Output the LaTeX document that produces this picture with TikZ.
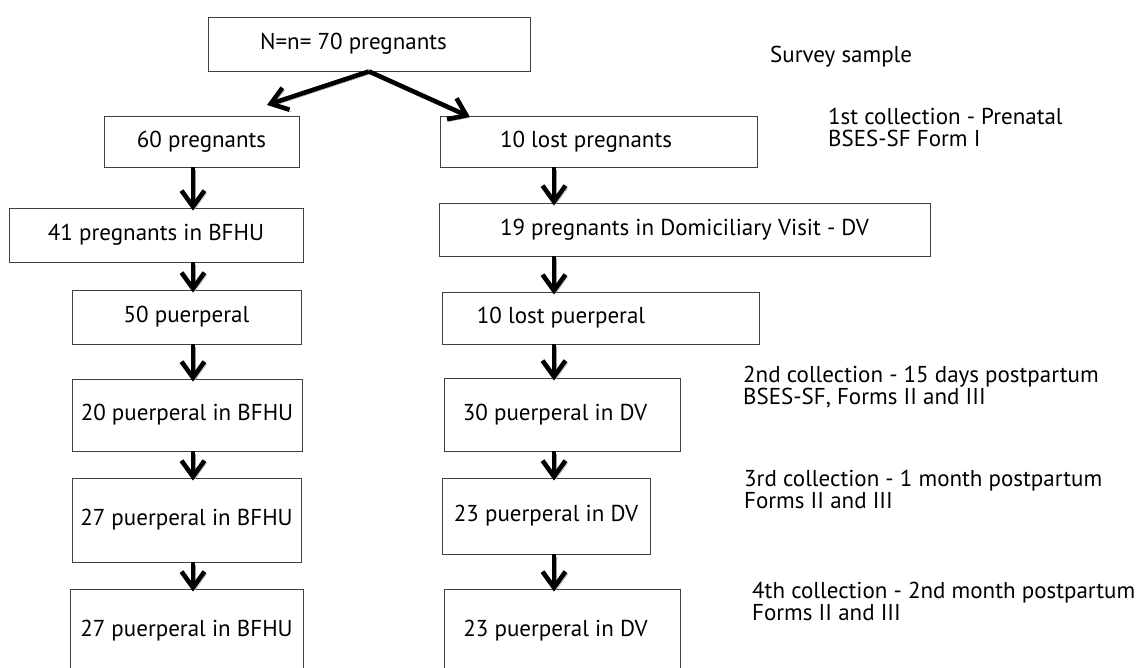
\documentclass[tikz,border=0pt]{standalone}
\usepackage{fontspec}
\setmainfont{PT Sans}
\usetikzlibrary{arrows.meta}

\tikzset{
  flowbox/.style={rectangle,draw=black!75,line width=0.9pt,inner sep=0pt,
    font=\fontsize{23}{24}\selectfont},
  flowarrow/.style={line width=4.6pt,-{Straight Barb[length=16pt,width=23pt]},
    preaction={draw=black!40,transform canvas={shift={(2.2pt,-2.2pt)}}}},
  stagelabel/.style={anchor=base west,align=left,inner sep=0pt,
    font=\fontsize{23}{22}\selectfont},
  textleft/.style={execute at begin node={\kern#1}}
}

\begin{document}
\begin{tikzpicture}[x=1pt,y=-1pt]
 \useasboundingbox (0,0) rectangle (1144,668);
 \clip (0,0) rectangle (1144,668);

 \node[flowbox,minimum width=322pt,minimum height=54pt,textleft=-31pt] (total) at (369,44) {N=n= 70 pregnants};

 % left column
 \node[flowbox,minimum width=195pt,minimum height=51pt] (preg60) at (201.5,141.5) {60 pregnants};
 \node[flowbox,minimum width=294pt,minimum height=54pt] (preg41) at (156,235) {41 pregnants in BFHU};
 \node[flowbox,minimum width=229pt,minimum height=54pt] (puer50) at (186.5,317) {50 puerperal};
 \node[flowbox,minimum width=230pt,minimum height=72pt] (puer20) at (187,415) {20 puerperal in BFHU};
 \node[flowbox,minimum width=229pt,minimum height=84pt] (puer27a) at (186.5,520) {27 puerperal in BFHU};
 \node[flowbox,minimum width=233pt,minimum height=84pt] (puer27b) at (186.5,631) {27 puerperal in BFHU};

 % right column
 \node[flowbox,minimum width=317pt,minimum height=51pt,textleft=-25pt] (lost10) at (598.5,141.5) {10 lost pregnants};
 \node[flowbox,minimum width=491pt,minimum height=53pt] (preg19) at (684.5,229.5) {19 pregnants in Domiciliary Visit - DV};
 \node[flowbox,minimum width=317pt,minimum height=52pt,textleft=-79pt] (lostp10) at (600.5,318) {10 lost puerperal};
 \node[flowbox,minimum width=236pt,minimum height=73pt,textleft=-14pt] (puer30) at (562,414.5) {30 puerperal in DV};
 \node[flowbox,minimum width=208pt,minimum height=76pt] (puer23a) at (546,516) {23 puerperal in DV};
 \node[flowbox,minimum width=236pt,minimum height=84pt,textleft=-13pt] (puer23b) at (562,631) {23 puerperal in DV};

 % stage labels
 \node[stagelabel] (survey) at (770,63) {Survey sample};
 \node[stagelabel] (coll1) at (828,147) {1st collection - Prenatal\\BSES-SF Form I};
 \node[stagelabel] (coll2) at (743,405) {2nd collection - 15 days postpartum\\BSES-SF, Forms II and III};
 \node[stagelabel] (coll3) at (744,508) {3rd collection - 1 month postpartum\\Forms II and III};
 \node[stagelabel] (coll4) at (752,620) {4th collection - 2nd month postpartum\\Forms II and III};

 \coordinate (colL) at (193,0);
 \coordinate (colR) at (554,0);
 \coordinate (tipL) at (267,105);
 \coordinate (tipR) at (470,117);

 \draw[flowarrow] (total.south) -- (tipL);
 \draw[flowarrow] (total.south) -- (tipR);

 \draw[flowarrow,shorten >=-3pt] (preg60.south -| colL) -- (preg41.north -| colL);
 \draw[flowarrow,shorten >=-3pt] (preg41.south -| colL) -- (puer50.north -| colL);
 \draw[flowarrow,shorten >=-3pt] (puer50.south -| colL) -- (puer20.north -| colL);
 \draw[flowarrow,shorten >=-3pt] (puer20.south -| colL) -- (puer27a.north -| colL);
 \draw[flowarrow,shorten >=-3pt] (puer27a.south -| colL) -- (puer27b.north -| colL);

 \draw[flowarrow,shorten >=-3pt] (lost10.south -| colR) -- (preg19.north -| colR);
 \draw[flowarrow,shorten >=-3pt] (preg19.south -| colR) -- (lostp10.north -| colR);
 \draw[flowarrow,shorten >=-3pt] (lostp10.south -| colR) -- (puer30.north -| colR);
 \draw[flowarrow,shorten >=-3pt] (puer30.south -| colR) -- (puer23a.north -| colR);
 \draw[flowarrow,shorten >=-3pt] (puer23a.south -| colR) -- (puer23b.north -| colR);
\end{tikzpicture}
\end{document}
